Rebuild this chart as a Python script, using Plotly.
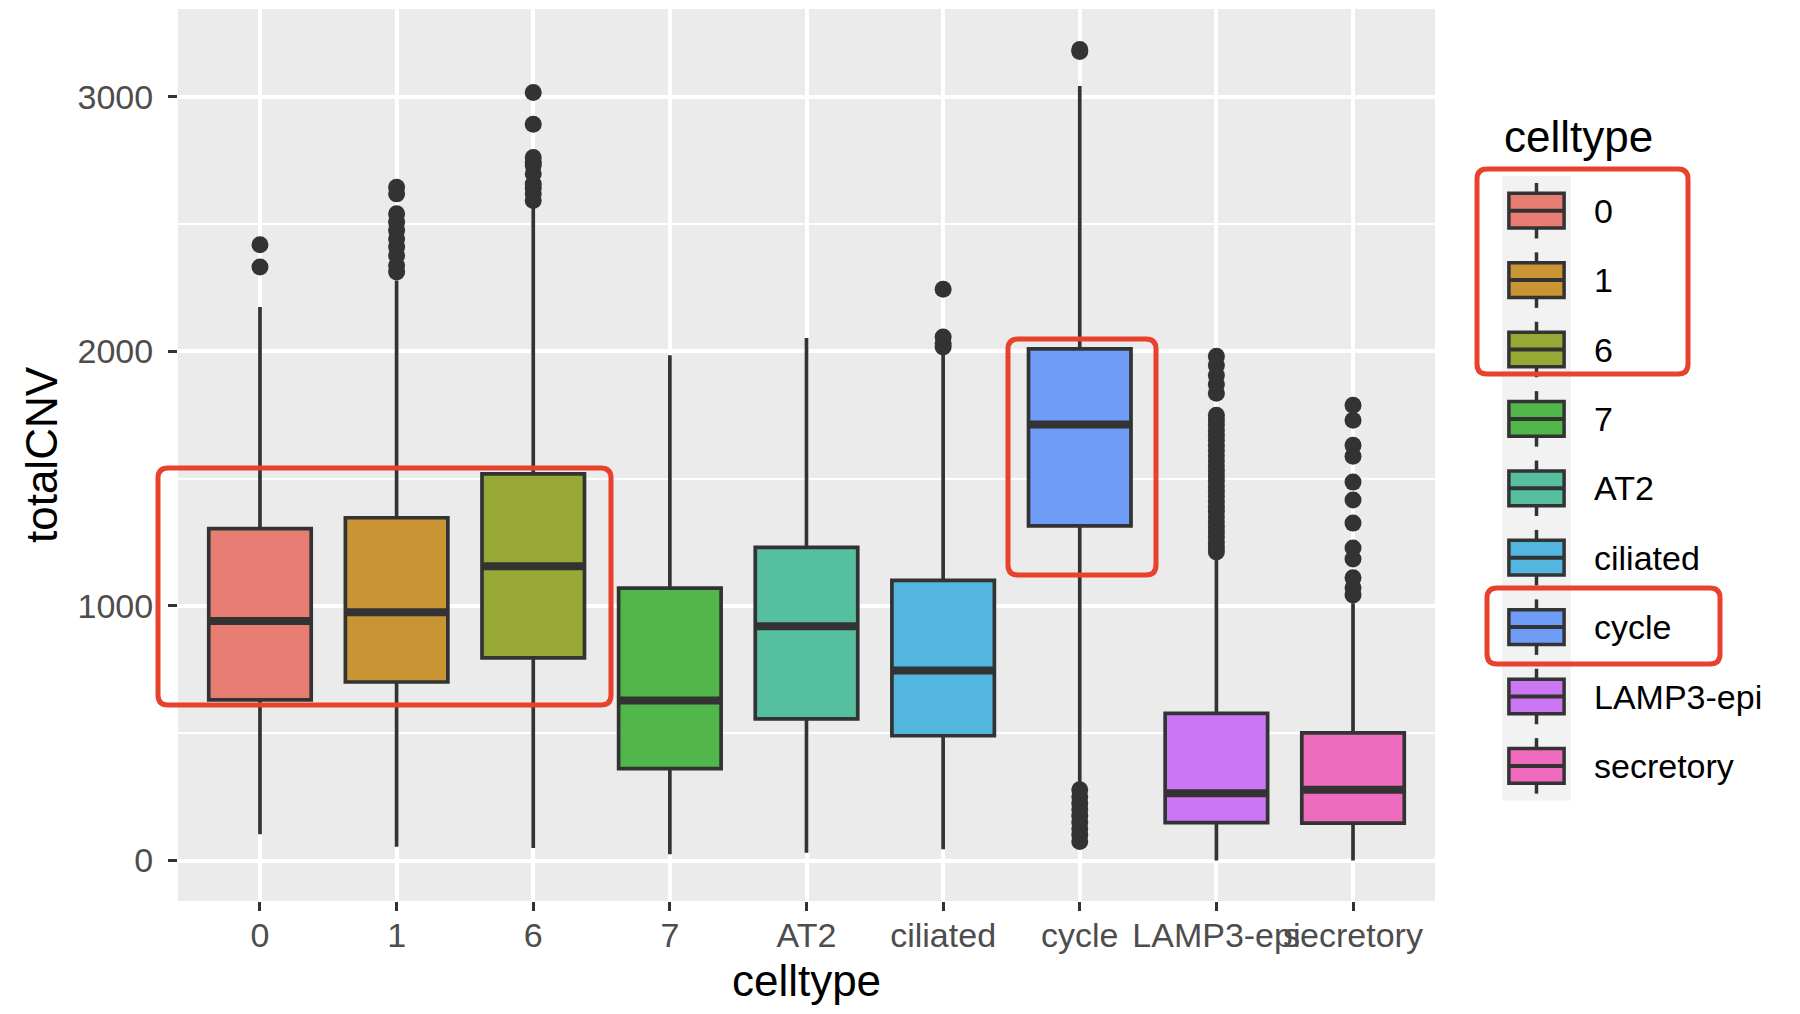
import plotly.graph_objects as go

# ---------------- data ----------------
categories = ["0", "1", "6", "7", "AT2", "ciliated", "cycle", "LAMP3-epi", "secretory"]
colors = ["#E77D73", "#C99433", "#97A934", "#52B74A", "#56BFA0",
          "#53B6DF", "#6E9CF7", "#CB76F2", "#EF6BBD"]

q1 =         [631, 701, 796, 361, 556, 490, 1314, 149, 147]
median =     [941, 975, 1156, 628, 920, 746, 1712, 264, 278]
q3 =         [1303, 1346, 1518, 1070, 1230, 1100, 2009, 578, 501]
lowerfence = [103, 54, 49, 25, 30, 44, 305, 0, 0]
upperfence = [2174, 2278, 2566, 1984, 2052, 1990, 3042, 1185, 1010]

outliers = {
    "0": [2331, 2418],
    "1": [2311, 2337, 2376, 2409, 2442, 2475, 2507, 2540, 2618, 2644],
    "6": [2592, 2618, 2640, 2657, 2697, 2730, 2742, 2761, 2891, 3016],
    "7": [],
    "AT2": [],
    "ciliated": [2017, 2030, 2056, 2243],
    "cycle": [75, 100, 125, 150, 175, 200, 225, 250, 278, 3177, 3185],
    "LAMP3-epi": [1212, 1230, 1250, 1270, 1290, 1310, 1330, 1350, 1370, 1390,
                  1410, 1430, 1450, 1470, 1490, 1510, 1530, 1550, 1570, 1590,
                  1610, 1630, 1650, 1670, 1690, 1710, 1730, 1749, 1835, 1870,
                  1906, 1945, 1980],
    "secretory": [1043, 1071, 1110, 1184, 1227, 1325, 1416, 1486, 1588, 1631,
                  1729, 1788],
}

y_ticks = [0, 1000, 2000, 3000]
y_minor = [500, 1500, 2500]

# ---------------- layout constants (screen pixels) ----------------
W, H = 1800, 1014
OFF = 8                      # default page (body) margin around the figure
PANEL_L, PANEL_R, PANEL_T, PANEL_B = 178, 1435, 9, 901
ML, MT = PANEL_L - OFF, PANEL_T - OFF
MR, MB = W - (PANEL_R - OFF), H - (PANEL_B - OFF)
PW, PH = PANEL_R - PANEL_L, PANEL_B - PANEL_T
INK = "#333333"
RED = "#E8412C"
FONT = "Liberation Sans, Arial, sans-serif"
BOX_W = 0.75


def px_x(px):
    return (px - PANEL_L) / PW


def px_y(py):
    return (PANEL_B - py) / PH


fig = go.Figure()

# boxes
for i, cat in enumerate(categories):
    fig.add_trace(go.Box(
        x=[i], q1=[q1[i]], median=[median[i]], q3=[q3[i]],
        lowerfence=[lowerfence[i]], upperfence=[upperfence[i]],
        width=BOX_W, whiskerwidth=0, boxpoints=False,
        fillcolor=colors[i], line=dict(color=INK, width=3.7),
        name=cat, showlegend=False, hoverinfo="skip",
    ))

# thick median bars (ggplot fatten = 2)
mx, my = [], []
for i, m in enumerate(median):
    mx += [i - BOX_W / 2, i + BOX_W / 2, None]
    my += [m, m, None]
fig.add_trace(go.Scatter(x=mx, y=my, mode="lines",
                         line=dict(color=INK, width=8),
                         showlegend=False, hoverinfo="skip"))

# outliers
ox, oy = [], []
for i, cat in enumerate(categories):
    for v in outliers[cat]:
        ox.append(i)
        oy.append(v)
fig.add_trace(go.Scatter(x=ox, y=oy, mode="markers",
                         marker=dict(color=INK, size=17, line=dict(width=0)),
                         showlegend=False, hoverinfo="skip"))

shapes = []
annotations = []


def rounded_rect(x0, y0, x1, y1, r):
    X = lambda p: px_x(p)
    Y = lambda p: px_y(p)
    return (f"M {X(x0 + r)},{Y(y0)} L {X(x1 - r)},{Y(y0)} Q {X(x1)},{Y(y0)} {X(x1)},{Y(y0 + r)} "
            f"L {X(x1)},{Y(y1 - r)} Q {X(x1)},{Y(y1)} {X(x1 - r)},{Y(y1)} "
            f"L {X(x0 + r)},{Y(y1)} Q {X(x0)},{Y(y1)} {X(x0)},{Y(y1 - r)} "
            f"L {X(x0)},{Y(y0 + r)} Q {X(x0)},{Y(y0)} {X(x0 + r)},{Y(y0)} Z")


# ---------------- manual ggplot-style legend ----------------
LEG_X0, LEG_X1 = 1502, 1571
LEG_Y0, LEG_STEP = 176, 69.4
annotations.append(dict(text="celltype", x=px_x(1502), y=px_y(136), xref="paper", yref="paper",
                        xanchor="left", yanchor="middle", showarrow=False,
                        font=dict(family=FONT, size=44, color="black")))
shapes.append(dict(type="rect", xref="paper", yref="paper", layer="above",
                   x0=px_x(LEG_X0), x1=px_x(LEG_X1),
                   y0=px_y(LEG_Y0), y1=px_y(LEG_Y0 + LEG_STEP * len(categories)),
                   fillcolor="#F2F2F2", line=dict(width=0)))
kw = LEG_X1 - LEG_X0
for i, cat in enumerate(categories):
    top = LEG_Y0 + i * LEG_STEP
    cx = (LEG_X0 + LEG_X1) / 2
    shapes.append(dict(type="line", xref="paper", yref="paper", layer="above",
                       x0=px_x(cx), x1=px_x(cx),
                       y0=px_y(top + 0.1 * LEG_STEP), y1=px_y(top + 0.9 * LEG_STEP),
                       line=dict(color=INK, width=3.5)))
    shapes.append(dict(type="rect", xref="paper", yref="paper", layer="above",
                       x0=px_x(LEG_X0 + 0.1 * kw), x1=px_x(LEG_X1 - 0.1 * kw),
                       y0=px_y(top + 0.25 * LEG_STEP), y1=px_y(top + 0.75 * LEG_STEP),
                       fillcolor=colors[i], line=dict(color=INK, width=3.5)))
    shapes.append(dict(type="line", xref="paper", yref="paper", layer="above",
                       x0=px_x(LEG_X0 + 0.1 * kw), x1=px_x(LEG_X1 - 0.1 * kw),
                       y0=px_y(top + 0.5 * LEG_STEP), y1=px_y(top + 0.5 * LEG_STEP),
                       line=dict(color=INK, width=4)))
    annotations.append(dict(text=cat, x=px_x(1592), y=px_y(top + 0.5 * LEG_STEP),
                            xref="paper", yref="paper", xanchor="left", yanchor="middle",
                            showarrow=False, font=dict(family=FONT, size=34, color="black")))

# ---------------- red highlight frames ----------------
for (x0, y0, x1, y1) in [(158, 468, 611, 705), (1008, 339, 1156, 575),
                         (1477, 169, 1688, 374), (1487, 588, 1720, 664)]:
    shapes.append(dict(type="path", xref="paper", yref="paper", layer="above",
                       path=rounded_rect(x0, y0, x1, y1, 10),
                       line=dict(color=RED, width=5), fillcolor="rgba(0,0,0,0)"))

fig.update_layout(
    width=W, height=H,
    margin=dict(l=ML, r=MR, t=MT, b=MB, pad=0, autoexpand=False),
    paper_bgcolor="white", plot_bgcolor="#EBEBEB",
    font=dict(family=FONT, color="#4D4D4D"),
    showlegend=False,
    shapes=shapes, annotations=annotations,
    xaxis=dict(
        range=[-0.6, len(categories) - 0.4], tickmode="array",
        tickvals=list(range(len(categories))), ticktext=categories, tickangle=0,
        showgrid=True, gridcolor="white", gridwidth=3.5, zeroline=False,
        ticks="outside", ticklen=9, tickwidth=2.5, tickcolor=INK,
        ticklabelstandoff=-5,
        tickfont=dict(family=FONT, size=34, color="#4D4D4D"),
        title=dict(text="celltype", font=dict(family=FONT, size=44, color="black"), standoff=12),
        showline=False, fixedrange=True, automargin=False,
    ),
    yaxis=dict(
        range=[-159, 3344], tickmode="array", tickvals=y_ticks,
        showgrid=True, gridcolor="white", gridwidth=3.5, zeroline=False,
        minor=dict(tickmode="array", tickvals=y_minor, showgrid=True,
                   gridcolor="white", gridwidth=1.8, ticks=""),
        ticks="outside", ticklen=9, tickwidth=2.5, tickcolor=INK,
        ticklabelstandoff=8,
        tickfont=dict(family=FONT, size=34, color="#4D4D4D"),
        title=dict(text="totalCNV", font=dict(family=FONT, size=44, color="black"), standoff=6),
        showline=False, fixedrange=True, automargin=False,
    ),
)

fig.write_html("out.html")
